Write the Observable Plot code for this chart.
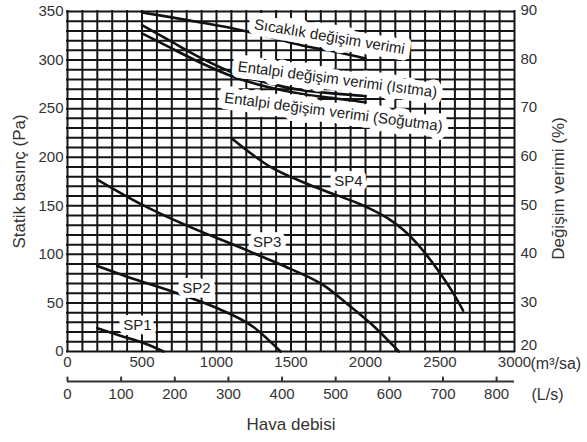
<!DOCTYPE html>
<html>
<head>
<meta charset="utf-8">
<script src="https://cdn.jsdelivr.net/npm/d3@7"></script>
<script src="https://cdn.jsdelivr.net/npm/@observablehq/plot@0.6"></script>
<style>
  html, body { margin: 0; padding: 0; background: #fff; }
  svg { display: block; }
</style>
</head>
<body>
<script>
// Axis ticks
const flowTicks = [0, 500, 1000, 1500, 2000, 2500, 3000];      // m³/sa
const lsTicks = [0, 100, 200, 300, 400, 500, 600, 700, 800];    // L/s
const paTicks = [0, 50, 100, 150, 200, 250, 300, 350];          // Pa
const effTicks = [20, 30, 40, 50, 60, 70, 80, 90];              // %

// Static pressure curves (x: m³/sa, y: Pa)
const sp1X = [200, 350, 523, 645];
const sp1Y = [24, 16.5, 8, 0];
const sp2X = [200, 400, 736, 982, 1250, 1430];
const sp2Y = [88, 77, 60, 46, 25, 0];
const sp3X = [200, 490, 825, 1161, 1362, 1497, 1720, 1870, 2034, 2224];
const sp3Y = [177, 152, 128, 107, 94, 85, 68, 50, 29, 0];
const sp4X = [1105, 1362, 1586, 1787, 1989, 2150, 2270, 2380, 2503, 2593, 2655];
const sp4Y = [219, 190, 174, 162, 150, 137, 123, 105, 80, 59, 42];

// Exchange efficiency curves (x: m³/sa, y: %)
const effX = [500, 680, 904, 1127, 1351, 1575, 1799, 2000];
const tempEff = [89.8, 88.9, 87.7, 86.4, 84.8, 83.0, 81.7, 80.3];
const heatEff = [87.2, 84.1, 80.3, 77.2, 75.2, 73.8, 73.1, 72.6];
const coolEff = [85.5, 82.7, 79.3, 76.4, 74.4, 73.0, 72.1, 71.3];

// Labels
const spNames = ["SP1", "SP2", "SP3", "SP4"];
const spLabelX = [470, 866, 1340, 1886];
const spLabelY = [27, 65, 113, 175];
const effNames = ["Sıcaklık değişim verimi", "Entalpi değişim verimi (Isıtma)", "Entalpi değişim verimi (Soğutma)"];
const effLabelX = [1758, 1812, 1785];
const effLabelY = [84.8, 76.0, 69.3];
const effLabelAngle = [9.5, 7.5, 7.5];

// Convert % (right axis) to Pa (left axis): 20% ↔ 0 Pa, 90% ↔ 350 Pa
const pctToPa = p => (p - 20) * 5;
const paToPct = v => 20 + v / 5;

const rows = [];
[[sp1X, sp1Y, "SP1"], [sp2X, sp2Y, "SP2"], [sp3X, sp3Y, "SP3"], [sp4X, sp4Y, "SP4"]].forEach(([xs, ys, k]) =>
  xs.forEach((x, i) => rows.push({series: k, x, y: ys[i]})));
[[tempEff, "temp"], [heatEff, "heat"], [coolEff, "cool"]].forEach(([ys, k]) =>
  effX.forEach((x, i) => rows.push({series: k, x, y: pctToPa(ys[i])})));

const spLabels = spNames.map((t, i) => ({t, x: spLabelX[i], y: spLabelY[i]}));
const effLabels = effNames.map((t, i) => ({t, x: effLabelX[i], y: pctToPa(effLabelY[i]), a: effLabelAngle[i]}));

const gridX = d3.range(0, 3001, 100);
const gridY = d3.range(0, 351, 10);

const font = "'Liberation Sans', Arial, Helvetica, sans-serif";
const textColor = "#333";

const chart = Plot.plot({
  width: 587,
  height: 442,
  marginLeft: 67,
  marginRight: 73,
  marginTop: 11,
  marginBottom: 91,
  x: {domain: [0, 3000]},
  y: {domain: [0, 350]},
  style: {fontFamily: font, fontSize: "15px", color: textColor, background: "#fff", overflow: "visible"},
  marks: [
    Plot.ruleX(gridX, {stroke: "#141414", strokeWidth: 2, strokeLinecap: "square"}),
    Plot.ruleY(gridY, {stroke: "#141414", strokeWidth: 2, strokeLinecap: "square"}),
    Plot.line(rows, {x: "x", y: "y", z: "series", stroke: "#111", strokeWidth: 2.6, curve: "monotone-x"}),
    Plot.text(spLabels, {x: "x", y: "y", text: "t", fontSize: 15, fill: "#222",
      stroke: "#fff", strokeWidth: 10, strokeLinejoin: "round"}),
    Plot.text(effLabels, {x: "x", y: "y", text: "t", rotate: "a", fontSize: 15, fill: "#222",
      stroke: "#fff", strokeWidth: 13, strokeLinejoin: "round"}),
    Plot.axisY({anchor: "left", ticks: paTicks, tickSize: 0, tickPadding: 4, label: null, fontSize: 15}),
    // Right axis (%) labels
    Plot.text(effTicks, {filter: d => d > 20, y: pctToPa, frameAnchor: "right", dx: 6, dy: -1,
      textAnchor: "start", lineAnchor: "middle", text: d => String(d), fontSize: 15, fill: textColor}),
    Plot.text(effTicks, {filter: d => d === 20, y: pctToPa, frameAnchor: "right", dx: 6, dy: -2,
      textAnchor: "start", lineAnchor: "bottom", text: d => String(d), fontSize: 15, fill: textColor}),
    Plot.axisX({anchor: "bottom", ticks: flowTicks, tickFormat: d => String(d), tickSize: 0, tickPadding: 5, label: null, fontSize: 15}),
    // Secondary L/s axis below
    Plot.ruleY([0], {dy: 30, stroke: "#333", strokeWidth: 2}),
    Plot.ruleX(lsTicks, {x: d => d * 3.6, y1: 0, y2: 4.5, dy: 30, stroke: "#333", strokeWidth: 2}),
    Plot.text(lsTicks, {x: d => d * 3.6, frameAnchor: "bottom", lineAnchor: "middle", dy: 43,
      text: d => String(d), fontSize: 15, fill: textColor}),
    // Units and titles
    Plot.text(["(m³/sa)"], {frameAnchor: "bottom-right", dx: 16, dy: 12, textAnchor: "start", lineAnchor: "middle", fontSize: 16, fill: textColor}),
    Plot.text(["(L/s)"], {frameAnchor: "bottom-right", dx: 17, dy: 43, textAnchor: "start", lineAnchor: "middle", fontSize: 16, fill: textColor}),
    Plot.text(["Hava debisi"], {frameAnchor: "bottom", dy: 73, textAnchor: "middle", lineAnchor: "middle", fontSize: 17, fill: textColor}),
    Plot.text(["Statik basınç (Pa)"], {frameAnchor: "left", rotate: -90, dx: -48, textAnchor: "middle", lineAnchor: "middle", fontSize: 17, fill: textColor}),
    Plot.text(["Değişim verimi (%)"], {frameAnchor: "right", rotate: -90, dx: 44, dy: 7, textAnchor: "middle", lineAnchor: "middle", fontSize: 17, fill: textColor})
  ]
});
document.body.appendChild(chart);
</script>
</body>
</html>
